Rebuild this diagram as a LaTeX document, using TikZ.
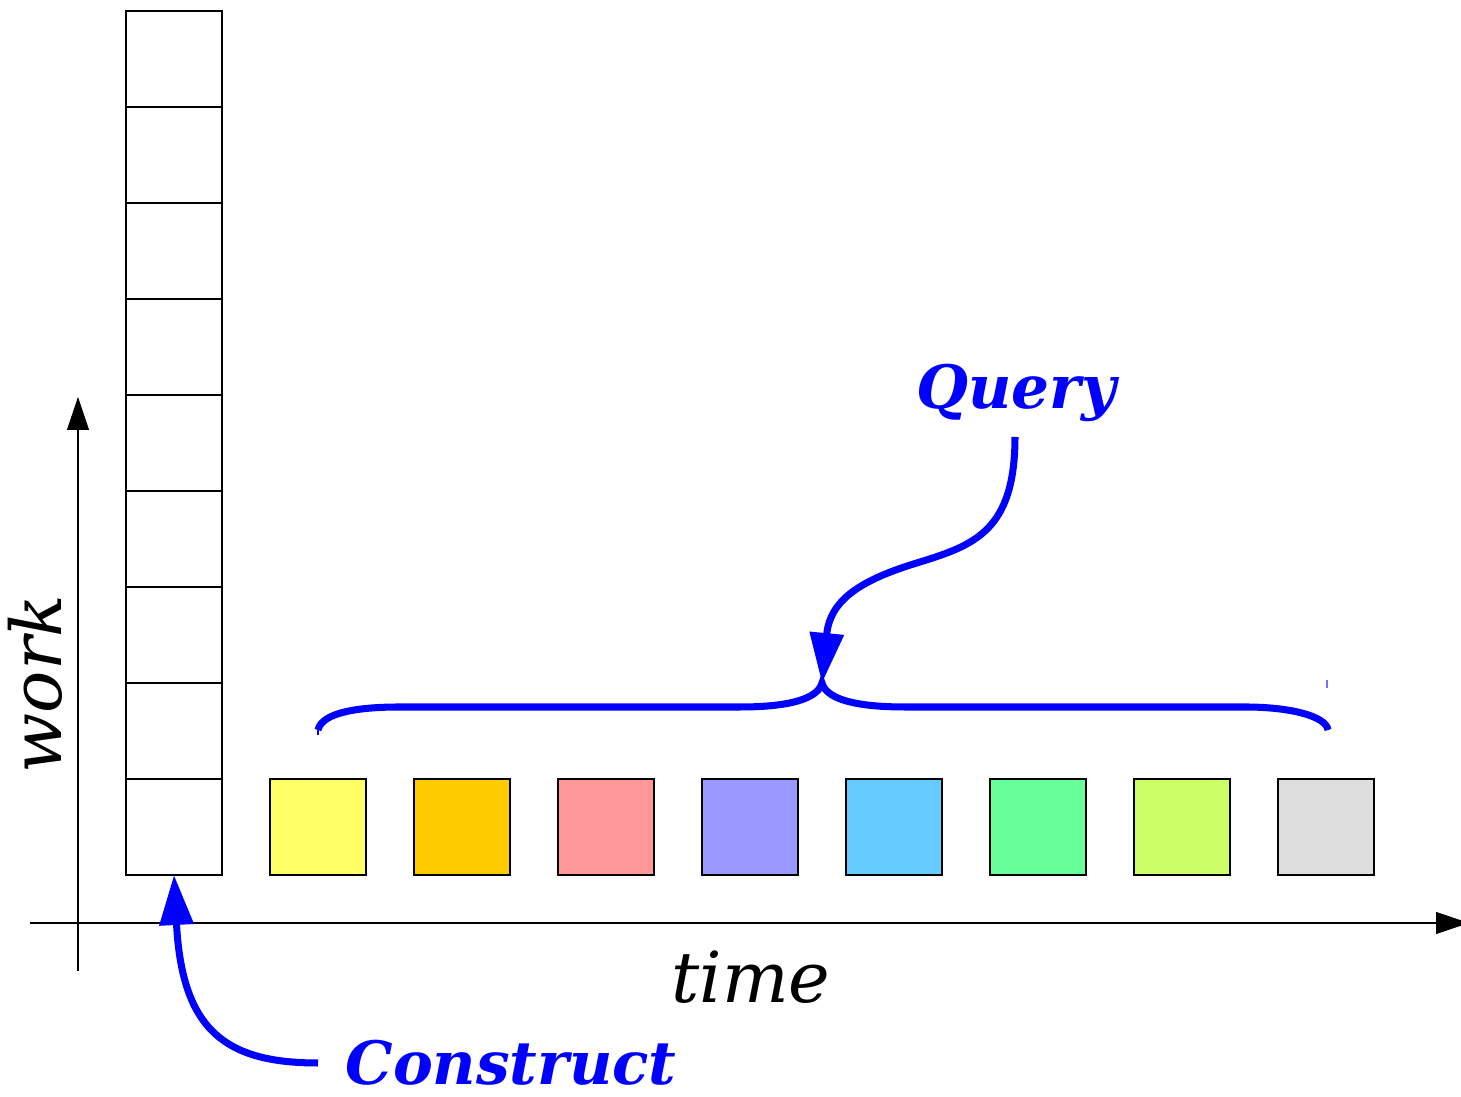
\documentclass[tikz,border=0pt]{standalone}
\usepackage{fontspec}
\setmainfont{DejaVu Serif}
\usetikzlibrary{arrows.meta}
\tikzstyle{cell}=[draw=black, line width=.3pt, minimum size=9.6mm, inner sep=0pt, outer sep=0pt]
\tikzstyle{axis}=[line width=.3pt, -{Triangle[length=3.3mm, width=2.2mm]}]
\tikzstyle{bluepen}=[blue, line width=2pt]
\tikzstyle{callout}=[bluepen, -{Triangle[length=5mm, width=3.3mm]}]
\tikzstyle{axlabel}=[font=\fontsize{20}{24}\selectfont\itshape, inner sep=0pt]
\tikzstyle{keyword}=[text=blue, font=\fontsize{17}{20}\selectfont\bfseries\itshape, inner sep=0pt]
\definecolor{sqyellow}{HTML}{FFFF66}
\definecolor{sqorange}{HTML}{FFCC00}
\definecolor{sqred}{HTML}{FF9999}
\definecolor{sqviolet}{HTML}{9999FF}
\definecolor{sqcyan}{HTML}{66CCFF}
\definecolor{sqgreen}{HTML}{66FF99}
\definecolor{sqlime}{HTML}{CCFF66}
\definecolor{sqgrey}{HTML}{DDDDDD}

\begin{document}
\begin{tikzpicture}[x=.1mm, y=-.1mm]
    \useasboundingbox (0,0) rectangle (1461,1097);

    % axes
    \coordinate (xfrom) at (30,923);
    \coordinate (xto) at (1469,923);
    \coordinate (yfrom) at (78,971);
    \coordinate (yto) at (78,397);
    \draw[axis] (xfrom) -- (xto);
    \draw[axis] (yfrom) -- (yto);
    \node[axlabel, rotate=90, anchor=base] (work) at (62,684) {work};
    \node[axlabel, anchor=base] (time) at (751,1003) {time};

    % the construction column
    \node[cell] (col1) at (174,59) {};
    \node[cell] (col2) at (174,155) {};
    \node[cell] (col3) at (174,251) {};
    \node[cell] (col4) at (174,347) {};
    \node[cell] (col5) at (174,443) {};
    \node[cell] (col6) at (174,539) {};
    \node[cell] (col7) at (174,635) {};
    \node[cell] (col8) at (174,731) {};
    \node[cell] (col9) at (174,827) {};

    % one square per query
    \node[cell, fill=sqyellow] (sq1) at (318,827) {};
    \node[cell, fill=sqorange] (sq2) at (462,827) {};
    \node[cell, fill=sqred] (sq3) at (606,827) {};
    \node[cell, fill=sqviolet] (sq4) at (750,827) {};
    \node[cell, fill=sqcyan] (sq5) at (894,827) {};
    \node[cell, fill=sqgreen] (sq6) at (1038,827) {};
    \node[cell, fill=sqlime] (sq7) at (1182,827) {};
    \node[cell, fill=sqgrey] (sq8) at (1326,827) {};

    % brace over the queries
    \coordinate (peak) at (822,683);
    \draw[bluepen] (318,730) .. controls (322,712) and (360,707) .. (400,707) -- (740,707)
        .. controls (792,707) and (818,698) .. (peak)
        .. controls (826,698) and (852,707) .. (905,707) -- (1245,707)
        .. controls (1290,707) and (1326,716) .. (1328,730);
    \draw[blue, line width=.4pt] (318,730) -- (318,735);
    \draw[blue!55, line width=.4pt] (1327,680) -- (1327,688);

    % labels and their arrows
    \node[keyword] (query) at (1016,393) {Query};
    \node[keyword] (construct) at (511,1063) {Construct};
    \coordinate (qtail) at (1015,437);
    \coordinate (ctail) at (318,1063);
    \draw[callout] (qtail) .. controls (1015,530) and (975,545) .. (920,562)
        .. controls (860,580) and (830,600) .. (peak);
    \draw[callout] (ctail) .. controls (225,1063) and (182,1030) .. (col9.south);

  \end{tikzpicture}
\end{document}
